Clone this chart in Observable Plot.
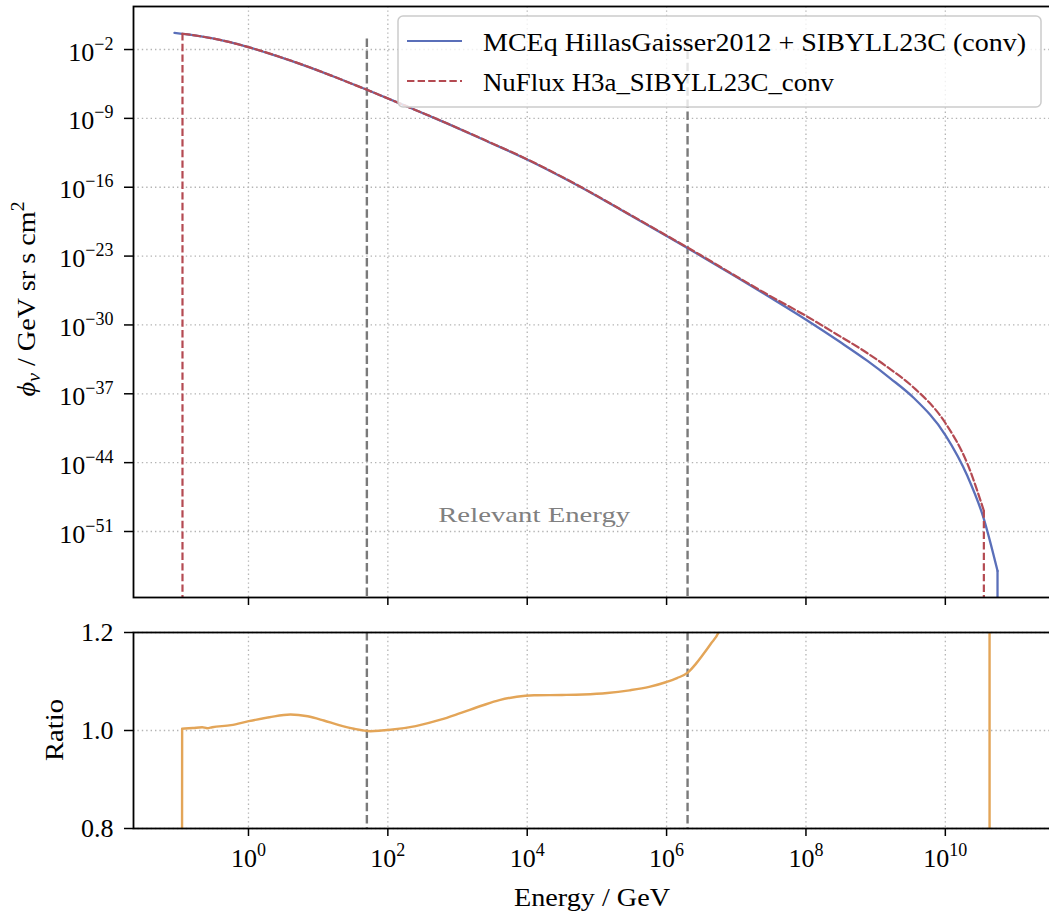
<!DOCTYPE html>
<html>
<head>
<meta charset="utf-8">
<script src="https://cdn.jsdelivr.net/npm/d3@7"></script>
<script src="https://cdn.jsdelivr.net/npm/@observablehq/plot@0.6"></script>
<style>
  html, body { margin: 0; padding: 0; background: #fff; overflow: hidden; }
  #wrap { position: relative; width: 1049px; height: 913px; overflow: hidden; background: #fff; }
  #top, #bottom { position: absolute; left: 0; width: 1056px; }
  #top { top: 0; }
  #bottom { top: 620px; }
  #legend { position: absolute; left: 397px; top: 15px; }
</style>
</head>
<body>
<div id="wrap">
  <div id="top"></div>
  <div id="bottom"></div>
  <svg id="legend" width="646" height="94"></svg>
</div>
<script>
// ---------------- data ----------------
const xTickExps = [0, 2, 4, 6, 8, 10];
const fluxTickExps = [-2, -9, -16, -23, -30, -37, -44, -51];
const ratioTicks = [0.8, 1.0, 1.2];
const cutEnergies = [50, 2e6];          // "relevant energy" bounds, GeV
const cutTopFlux = 0.2;                  // upper end of the dashed bounds in the flux panel
const relevantLabel = {logE: 4.1, flux: 1e-50, text: "Relevant Energy"};

// MCEq HillasGaisser2012 + SIBYLL23C (conv): log10(E/GeV), log10(flux) (non-zero part; zero beyond the last point)
const mceqLogE    = [-1.062, -0.797, -0.531, -0.266, 0, 0.423, 0.847, 1.277, 1.708, 2.282, 2.856, 3.430, 4.004, 4.377, 4.765, 5.382, 6.013, 6.487, 7.003, 7.506, 8.008, 8.496, 8.883, 9.214, 9.544, 10.003, 10.319, 10.548, 10.749];
const mceqLogFlux = [-0.301, -0.535, -0.850, -1.257, -1.766, -2.697, -3.740, -4.899, -6.120, -7.809, -9.538, -11.349, -13.200, -14.523, -15.978, -18.450, -21.003, -22.956, -25.123, -27.290, -29.497, -31.766, -33.658, -35.448, -37.402, -41.217, -45.388, -49.609, -55.000];

// NuFlux H3a_SIBYLL23C_conv (non-zero part; zero below the first and beyond the last point)
const nufluxLogE    = [-0.947, -0.531, -0.266, 0, 0.423, 0.847, 1.277, 1.708, 2.282, 2.856, 3.430, 4.004, 4.377, 4.765, 5.382, 6.013, 6.487, 7.003, 7.448, 8.008, 8.439, 8.883, 9.214, 9.544, 10.003, 10.319, 10.553];
const nufluxLogFlux = [-0.393, -0.847, -1.253, -1.758, -2.684, -3.728, -4.895, -6.120, -7.806, -9.526, -11.327, -13.170, -14.493, -15.947, -18.416, -20.962, -22.895, -25.072, -26.903, -29.111, -30.942, -32.875, -34.513, -36.354, -39.996, -44.146, -48.897];

// Ratio NuFlux / MCEq
const ratioLogE   = [-0.958, -0.952, -0.8, -0.665, -0.593, -0.521, -0.25, 0.004, 0.3, 0.603, 0.85, 1.081, 1.3, 1.512, 1.752, 2.039, 2.4, 2.757, 3.05, 3.354, 3.6, 3.85, 4.1, 4.5, 4.8, 5.15, 5.467, 5.75, 5.998, 6.15, 6.303, 6.42, 6.518, 6.63, 6.745, 7.0, 7.45, 8.01, 8.89, 9.55, 10.01, 10.32, 10.63, 10.635];
const ratioValues = [0, 1.0035, 1.005, 1.0067, 1.0047, 1.0067, 1.011, 1.019, 1.027, 1.0327, 1.029, 1.0204, 1.011, 1.0035, 0.9986, 1.0014, 1.009, 1.022, 1.036, 1.051, 1.062, 1.069, 1.0718, 1.0725, 1.0735, 1.0765, 1.082, 1.089, 1.099, 1.107, 1.118, 1.136, 1.154, 1.176, 1.2, 1.35, 2.6, 6, 6.5, 10, 21, 27, 30, 0];

const xDomainExp = [-1.650, 11.538];
const fluxDomainExp = [-57.71, 2.374];

// ---------------- styles ----------------
const BLUE = "#5a6fb9", RED = "#b44a52", ORANGE = "#e3a558", CUTGRAY = "#7a7a7a", GRID = "#b4b4b4";
const FONT = "'Liberation Serif', 'Times New Roman', serif";
const SVGNS = "http://www.w3.org/2000/svg";

const mceqData = mceqLogE.map((e, i) => ({E: 10 ** e, flux: 10 ** mceqLogFlux[i]}));
const nufluxData = nufluxLogE.map((e, i) => ({E: 10 ** e, flux: 10 ** nufluxLogFlux[i]}));
const ratioData = ratioLogE.map((e, i) => ({E: 10 ** e, r: ratioValues[i]}));
const xTicks = xTickExps.map(e => 10 ** e);
const fluxTicks = fluxTickExps.map(e => 10 ** e);
const zeroFloor = 10 ** -70;   // where zero flux lands on the log axis (below the frame, clipped)

const expFmt = d => { const e = Math.round(Math.log10(d)); return e < 0 ? "\u2212" + (-e) : String(e); };
const gridOpts = {stroke: GRID, strokeWidth: 1.3, strokeDasharray: "1.4,3", strokeOpacity: 1};
const cutOpts = {stroke: CUTGRAY, strokeWidth: 2.4, strokeDasharray: "8.5,3.7"};
const blueOpts = {stroke: BLUE, strokeWidth: 2.3};
const redOpts = {stroke: RED, strokeWidth: 2.2, strokeDasharray: "7.4,3.2"};
const baseStyle = {fontFamily: FONT, fontSize: "26px", color: "black", background: "white", maxWidth: "none", overflow: "visible"};

// ---------------- top panel ----------------
const topPlot = Plot.plot({
  width: 1056, height: 620,
  marginTop: 6, marginBottom: 23, marginLeft: 133, marginRight: 4,
  style: baseStyle,
  x: {type: "log", domain: xDomainExp.map(e => 10 ** e)},
  y: {type: "log", domain: fluxDomainExp.map(e => 10 ** e)},
  marks: [
    Plot.ruleX(xTicks, gridOpts),
    Plot.ruleY(fluxTicks, gridOpts),
    Plot.ruleX(cutEnergies, {...cutOpts, y1: zeroFloor, y2: cutTopFlux, clip: true}),
    // MCEq: smooth curve + drop to zero after the last non-zero point
    Plot.line(mceqData, {x: "E", y: "flux", ...blueOpts, curve: "monotone-x", clip: true}),
    Plot.ruleX([mceqData[mceqData.length - 1]], {x: "E", y1: "flux", y2: zeroFloor, ...blueOpts, clip: true}),
    // NuFlux: smooth curve + drops to zero at both ends
    Plot.line(nufluxData, {x: "E", y: "flux", ...redOpts, curve: "monotone-x", clip: true}),
    Plot.ruleX([nufluxData[0], nufluxData[nufluxData.length - 1]], {x: "E", y1: "flux", y2: zeroFloor, ...redOpts, clip: true}),
    Plot.text([relevantLabel], {x: d => 10 ** d.logE, y: "flux", text: "text", fill: "#808080", fontSize: 22, lineAnchor: "bottom", textAnchor: "middle"}),
    Plot.frame({stroke: "black", strokeWidth: 1.8}),
    Plot.axisX(xTicks, {tickSize: 8, strokeWidth: 1.5, tickFormat: () => "", label: null}),
    Plot.axisY(fluxTicks, {tickSize: 9, tickPadding: 11, strokeWidth: 1.5, tickFormat: expFmt, label: null})
  ]
});
document.getElementById("top").append(topPlot);

// ---------------- bottom panel ----------------
const bottomPlot = Plot.plot({
  width: 1056, height: 293,
  marginTop: 12, marginBottom: 85, marginLeft: 133, marginRight: 4,
  style: baseStyle,
  x: {type: "log", domain: xDomainExp.map(e => 10 ** e)},
  y: {domain: [ratioTicks[0], ratioTicks[ratioTicks.length - 1]]},
  marks: [
    Plot.ruleX(xTicks, gridOpts),
    Plot.ruleY(ratioTicks, gridOpts),
    Plot.ruleX(cutEnergies, cutOpts),
    Plot.line(ratioData, {x: "E", y: "r", stroke: ORANGE, strokeWidth: 2.4, curve: "monotone-x", clip: true}),
    Plot.frame({stroke: "black", strokeWidth: 1.8}),
    Plot.axisX(xTicks, {tickSize: 8, tickPadding: 12, strokeWidth: 1.5, tickFormat: expFmt, label: null}),
    Plot.axisY(ratioTicks, {tickSize: 9, tickPadding: 11, strokeWidth: 1.5, tickFormat: d => d.toFixed(1), label: null})
  ]
});
document.getElementById("bottom").append(bottomPlot);

// ---------------- power-of-ten tick labels ----------------
function powerLabels(svg, aria, baseDy) {
  svg.querySelectorAll(`g[aria-label="${aria}"] text`).forEach(t => {
    const exp = t.textContent;
    if (!exp) return;
    while (t.firstChild) t.removeChild(t.firstChild);
    const b = document.createElementNS(SVGNS, "tspan");
    b.textContent = "10";
    if (baseDy) b.setAttribute("dy", baseDy);
    const s = document.createElementNS(SVGNS, "tspan");
    s.textContent = exp;
    s.setAttribute("dy", "-11");
    s.setAttribute("font-size", "18");
    t.append(b, s);
  });
}
powerLabels(topPlot, "y-axis tick label", "2.7");
powerLabels(bottomPlot, "x-axis tick label", null);

// stretch annotation text to the reference's footprint
topPlot.querySelectorAll('g[aria-label="text"] text').forEach(t => {
  t.setAttribute("textLength", "192");
  t.setAttribute("lengthAdjust", "spacingAndGlyphs");
});

// ---------------- axis titles ----------------
function addSvgText(svg, html, attrs) {
  const t = document.createElementNS(SVGNS, "text");
  for (const [k, v] of Object.entries(attrs)) t.setAttribute(k, v);
  t.innerHTML = html;
  svg.append(t);
  return t;
}
addSvgText(topPlot,
  '<tspan font-style="italic">\u03D5</tspan><tspan font-style="italic" font-size="18" dy="5">\u03BD</tspan><tspan dy="-5"> / GeV sr s cm</tspan><tspan font-size="18" dy="-11">2</tspan>',
  {transform: "translate(35,299) rotate(-90)", "text-anchor": "middle", "font-size": "26", "font-family": FONT, fill: "black", textLength: "195", lengthAdjust: "spacingAndGlyphs"});
addSvgText(bottomPlot, "Ratio",
  {transform: "translate(63,110) rotate(-90)", "text-anchor": "middle", "font-size": "26", "font-family": FONT, fill: "black", textLength: "62", lengthAdjust: "spacingAndGlyphs"});
addSvgText(bottomPlot, "Energy / GeV",
  {x: "592", y: "285.7", "text-anchor": "middle", "font-size": "26", "font-family": FONT, fill: "black", textLength: "156", lengthAdjust: "spacingAndGlyphs"});

// ---------------- legend ----------------
const legendSvg = d3.select("#legend");
legendSvg.append("rect").attr("x", 1).attr("y", 1).attr("width", 643).attr("height", 91).attr("rx", 5)
  .attr("fill", "white").attr("fill-opacity", 0.8).attr("stroke", "#cccccc").attr("stroke-width", 1.5);
const legendItems = [
  {label: "MCEq HillasGaisser2012 + SIBYLL23C (conv)", color: BLUE, dash: null, len: 543},
  {label: "NuFlux H3a_SIBYLL23C_conv", color: RED, dash: "7.4,3.2", len: 351}
];
legendItems.forEach((d, i) => {
  const yc = 26 + i * 40;
  legendSvg.append("line").attr("x1", 10).attr("x2", 65).attr("y1", yc).attr("y2", yc)
    .attr("stroke", d.color).attr("stroke-width", 2.2).attr("stroke-dasharray", d.dash);
  legendSvg.append("text").attr("x", 86).attr("y", yc + 10).attr("font-family", FONT).attr("font-size", 26)
    .attr("fill", "black").attr("textLength", d.len).attr("lengthAdjust", "spacingAndGlyphs").text(d.label);
});
</script>
</body>
</html>
